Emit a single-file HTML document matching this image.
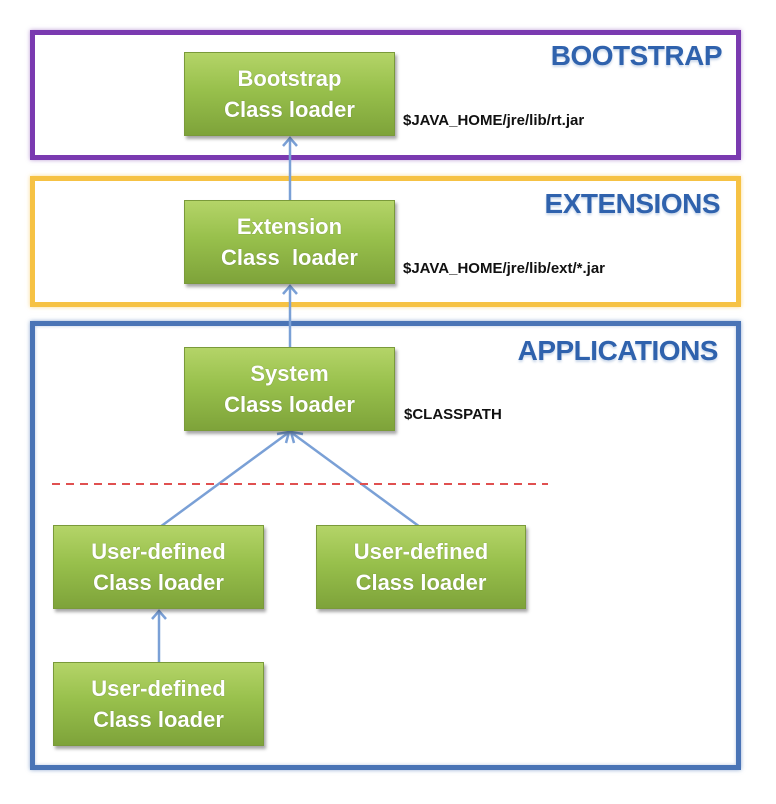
<!DOCTYPE html>
<html><head><meta charset="utf-8"><style>
html,body{margin:0;padding:0;background:#fff;}
body{width:776px;height:804px;position:relative;overflow:hidden;font-family:"Liberation Sans",sans-serif;}
.frame{position:absolute;box-sizing:border-box;}
.node{position:absolute;box-sizing:border-box;background:linear-gradient(#b4d468 0%,#98c04c 45%,#7ea33a 100%);border:1px solid #7a9a3a;box-shadow:2px 3px 3px rgba(0,0,0,0.35);color:#fff;font-weight:bold;font-size:22px;text-align:center;display:flex;align-items:center;justify-content:center;line-height:31px;text-shadow:0 0 1px rgba(60,80,20,0.5);}
.title{position:absolute;color:#2f62ad;font-weight:bold;font-size:28px;letter-spacing:-0.5px;text-shadow:0 2px 2px rgba(47,98,173,0.25);}
.path{position:absolute;color:#111;font-weight:bold;font-size:15px;}
</style></head><body>
<div class="frame" style="left:30px;top:30px;width:711px;height:130px;border:5px solid #7a3ab0;box-shadow:0 0 4px rgba(122,58,176,0.5);"></div>
<div class="frame" style="left:30px;top:176px;width:711px;height:131px;border:5px solid #f6c244;box-shadow:0 0 4px rgba(246,194,68,0.6);"></div>
<div class="frame" style="left:30px;top:321px;width:711px;height:449px;border:5px solid #4a74b6;box-shadow:0 0 4px rgba(74,116,182,0.6), inset 0 0 3px rgba(74,116,182,0.4);"></div>

<div class="title" style="right:54px;top:40px;">BOOTSTRAP</div>
<div class="title" style="right:56px;top:188px;">EXTENSIONS</div>
<div class="title" style="right:58px;top:335px;">APPLICATIONS</div>

<svg style="position:absolute;left:0;top:0" width="776" height="804">
<g stroke="#7aa0d6" stroke-width="2.5" fill="none">
<line x1="290" y1="200" x2="290" y2="139"/>
<polyline points="283,146 290,138 297,146"/>
<line x1="290" y1="347" x2="290" y2="287"/>
<polyline points="283,294 290,286 297,294"/>
<line x1="160" y1="527" x2="288" y2="433"/>
<polyline points="277,434 289,432 286,443"/>
<line x1="420" y1="527" x2="292" y2="433"/>
<polyline points="303,434 291,432 294,443"/>
<line x1="159" y1="662" x2="159" y2="612"/>
<polyline points="152,619 159,611 166,619"/>
</g>
<line x1="52" y1="484" x2="548" y2="484" stroke="#e05050" stroke-width="2" stroke-dasharray="8,6"/>
</svg>

<div class="node" style="left:184px;top:52px;width:211px;height:84px;">Bootstrap<br>Class loader</div>
<div class="node" style="left:184px;top:200px;width:211px;height:84px;">Extension<br>Class&nbsp;&nbsp;loader</div>
<div class="node" style="left:184px;top:347px;width:211px;height:84px;">System<br>Class loader</div>
<div class="node" style="left:53px;top:525px;width:211px;height:84px;">User-defined<br>Class loader</div>
<div class="node" style="left:316px;top:525px;width:210px;height:84px;">User-defined<br>Class loader</div>
<div class="node" style="left:53px;top:662px;width:211px;height:84px;">User-defined<br>Class loader</div>

<div class="path" style="left:403px;top:112px;">$JAVA_HOME/jre/lib/rt.jar</div>
<div class="path" style="left:403px;top:260px;">$JAVA_HOME/jre/lib/ext/*.jar</div>
<div class="path" style="left:404px;top:406px;">$CLASSPATH</div>
</body></html>
